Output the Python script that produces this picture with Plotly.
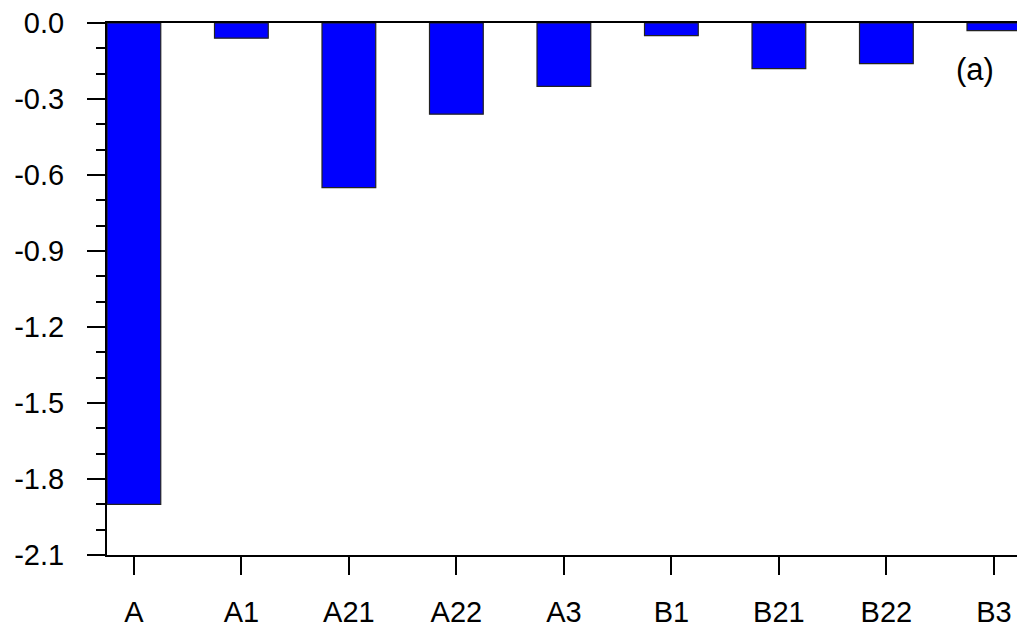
import plotly.graph_objects as go

# Categories and bar values
categories = ["A", "A1", "A21", "A22", "A3", "B1", "B21", "B22", "B3"]
values = [-1.90, -0.06, -0.65, -0.36, -0.25, -0.05, -0.18, -0.16, -0.03]

# Y-axis tick values and labels (plain hyphen minus)
y_tickvals = [0.0, -0.3, -0.6, -0.9, -1.2, -1.5, -1.8, -2.1]
y_ticktext = ["0.0", "-0.3", "-0.6", "-0.9", "-1.2", "-1.5", "-1.8", "-2.1"]

font_family = "Liberation Sans"
tick_font = dict(family=font_family, size=29, color="black")

fig = go.Figure()
fig.add_trace(go.Bar(
    x=list(range(len(categories))),
    y=values,
    width=0.5,
    marker=dict(color="#0000FF", line=dict(color="#222222", width=1.2)),
    showlegend=False,
))

fig.update_layout(
    width=1017,
    height=629,
    margin=dict(l=107, r=0, t=23, b=74, autoexpand=False),
    paper_bgcolor="white",
    plot_bgcolor="white",
    font=dict(family=font_family, size=29, color="black"),
    xaxis=dict(
        range=[-0.25, 8.215],
        tickvals=list(range(len(categories))),
        ticktext=categories,
        tickfont=tick_font,
        showline=True,
        linecolor="black",
        linewidth=2,
        mirror=True,
        ticks="outside",
        ticklen=18,
        tickwidth=2,
        tickcolor="black",
        ticklabelstandoff=12,
        showgrid=False,
        zeroline=False,
        automargin=False,
    ),
    yaxis=dict(
        range=[-2.1, 0.0],
        tickvals=y_tickvals,
        ticktext=y_ticktext,
        tickfont=tick_font,
        showline=True,
        linecolor="black",
        linewidth=2,
        ticks="outside",
        ticklen=18,
        tickwidth=2,
        tickcolor="black",
        ticklabelstandoff=17,
        minor=dict(dtick=0.1, ticks="outside", ticklen=9, tickwidth=2, tickcolor="black"),
        showgrid=False,
        zeroline=False,
        automargin=False,
    ),
    annotations=[dict(
        text="(a)",
        x=0.954, y=0.912,
        xref="paper", yref="paper",
        xanchor="center", yanchor="middle",
        showarrow=False,
        font=dict(family=font_family, size=31, color="black"),
    )],
)

fig.write_html("out.html")
